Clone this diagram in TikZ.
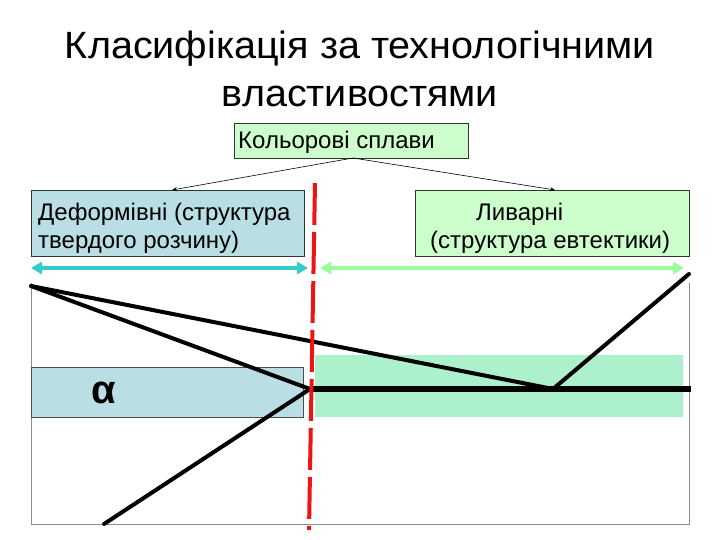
\documentclass[tikz,border=0pt]{standalone}
\usepackage{fontspec}
\setmainfont{Liberation Sans}
\newfontfamily\titlefont[FakeStretch=1.04]{Liberation Sans}
\usetikzlibrary{arrows.meta}
\definecolor{boxgreen}{RGB}{204,255,204}
\definecolor{boxblue}{RGB}{185,222,228}
\definecolor{mint}{RGB}{172,240,204}
\definecolor{arrcyan}{RGB}{51,204,204}
\definecolor{arrgreen}{RGB}{153,255,153}
\definecolor{dashred}{RGB}{238,20,20}
\definecolor{framegray}{RGB}{140,140,140}
\tikzset{
  boxfont/.style={font=\fontsize{24}{28}\selectfont},
  gbox/.style={draw=black!80, line width=0.6pt, fill=boxgreen, anchor=north west, inner sep=0pt},
  bbox/.style={draw=black!80, line width=0.6pt, fill=boxblue, anchor=north west, inner sep=0pt},
  boxtext/.style={boxfont, align=left, inner sep=0pt, anchor=base west},
  thinarrow/.style={-{Stealth[length=5pt,width=4pt]}, line width=0.6pt},
  rangearrow/.style={{Triangle[length=11pt,width=12pt]}-{Triangle[length=11pt,width=12pt]}, line width=4pt},
  phase/.style={line width=4pt, line cap=round},
}
\begin{document}
\begin{tikzpicture}[x=1pt,y=-1pt]
\useasboundingbox (0,0) rectangle (720,540);
% title (base anchor = baseline of last line)
\node[font=\titlefont\fontsize{38}{48}\selectfont, align=center, anchor=base, inner sep=0pt] (title) at (360,107)
  {Класифікація за технологічними\\властивостями};
% boxes
\node[gbox, minimum width=234, minimum height=35] (col) at (234,123) {};
\node[boxtext] (colt) at (238,149) {Кольорові сплави};
\node[bbox, minimum width=273, minimum height=66] (def) at (31,190) {};
\node[boxtext] (deft) at (38,248) {Деформівні (структура\\твердого розчину)};
\node[gbox, minimum width=274, minimum height=66] (cast) at (415,190) {};
\node[boxtext] (castt) at (430,248) {\hspace*{46pt}Ливарні\\(структура евтектики)};
% connectors from top box
\coordinate (colb) at (353,158);
\draw[thinarrow] (colb) -- (def.north -| 172,0);
\draw[thinarrow] (colb) -- (cast.north -| 555,0);
% range arrows
\coordinate (ra1) at (31,268);
\coordinate (ra2) at (308,268);
\coordinate (rb1) at (320,268);
\coordinate (rb2) at (684,268);
\draw[rangearrow, arrcyan] (ra1) -- (ra2);
\draw[rangearrow, arrgreen] (rb1) -- (rb2);
% frame
\coordinate (fl) at (31,283);
\coordinate (fbl) at (31,524);
\coordinate (fbr) at (689,524);
\coordinate (fr) at (689,283);
\draw[framegray, line width=1pt] (fl) -- (fbl) -- (fbr) -- (fr);
% shaded regions
\node[draw=black!70, line width=0.6pt, fill=boxblue, minimum width=272, minimum height=50, anchor=north west, inner sep=0pt] (alpha) at (31,367) {};
\node[font=\bfseries\fontsize{40}{40}\selectfont, anchor=base west, inner sep=0pt] (alphat) at (91,403) {α};
\node[fill=mint, minimum width=368, minimum height=62, anchor=north west, inner sep=0pt] (eut) at (315,355) {};
% phase diagram lines
\coordinate (A) at (31,286);
\coordinate (E) at (310,389);
\coordinate (B) at (553,389);
\coordinate (C) at (689,274);
\coordinate (D) at (104,524);
\coordinate (F) at (691,389);
\draw[phase] (A) -- (E);
\draw[phase] (A) -- (B);
\draw[phase] (B) -- (C);
\draw[phase] (D) -- (E);
\draw[line width=6pt] (E) -- (F);
% red dashed divider
\coordinate (R1) at (315,183);
\coordinate (R2) at (309,530);
\draw[dashred, line width=4pt, dash pattern=on 42pt off 7pt] (R1) -- (R2);
\end{tikzpicture}
\end{document}
